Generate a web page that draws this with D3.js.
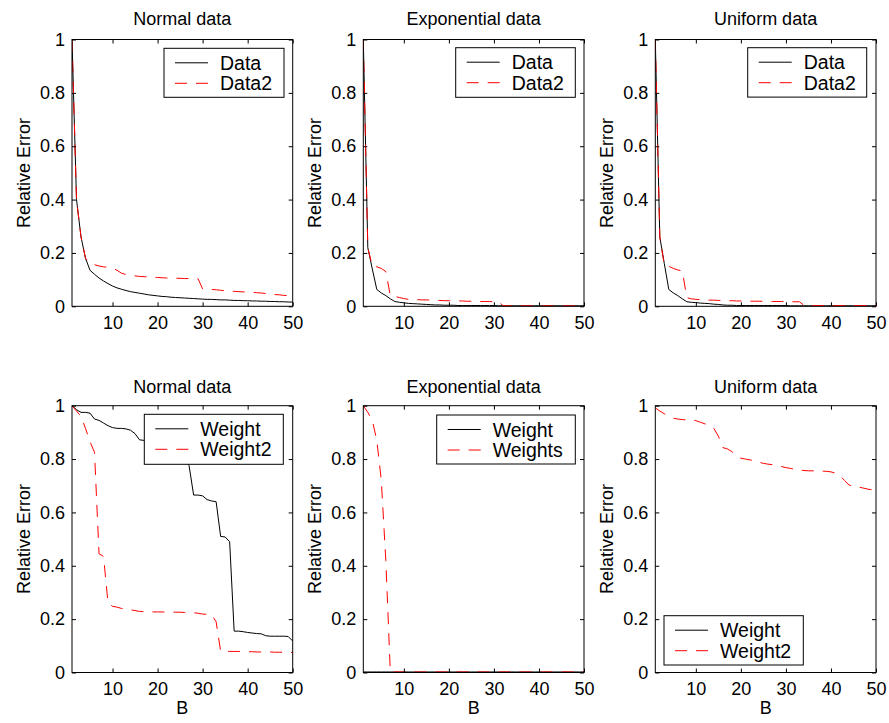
<!DOCTYPE html>
<html><head><meta charset="utf-8">
<script src="https://cdn.jsdelivr.net/npm/d3@7"></script>
<style>
body{margin:0;background:#fff}
svg{display:block}
text{font-family:"Liberation Sans",Arial,Helvetica,sans-serif;fill:#000}
</style>
</head><body>
<svg id="chart" width="889" height="723"></svg>
<script>
// ---------------- data ----------------
const B = [1,2,3,4,5,6,7,8,9,10,11,12,13,14,15,16,17,18,19,20,21,22,23,24,25,26,27,28,29,30,31,32,33,34,35,36,37,38,39,40,41,42,43,44,45,46,47,48,49,50];
const xTicks = [10,20,30,40,50];
const yTicks = [0,0.2,0.4,0.6,0.8,1];
const yTickLabels = ["0","0.2","0.4","0.6","0.8","1"];
const titles = ["Normal data","Exponential data","Uniform data","Normal data","Exponential data","Uniform data"];
const legendNames = [["Data","Data2"],["Data","Data2"],["Data","Data2"],["Weight","Weight2"],["Weight","Weights"],["Weight","Weight2"]];
const yLabel = "Relative Error";
const xLabel = "B";

const normalData = [1.0,0.40,0.26,0.18,0.135,0.12,0.106,0.095,0.085,0.076,0.069,0.064,0.059,0.055,0.052,0.049,0.046,0.043,0.041,0.039,0.037,0.036,0.034,0.033,0.032,0.031,0.030,0.029,0.028,0.027,0.026,0.026,0.025,0.024,0.024,0.023,0.022,0.022,0.021,0.021,0.020,0.020,0.019,0.019,0.018,0.018,0.017,0.017,0.016,0.016];
const normalData2 = [1.0,0.40,0.26,0.18,0.162,0.156,0.151,0.148,0.146,0.143,0.135,0.124,0.119,0.116,0.114,0.112,0.111,0.110,0.109,0.108,0.107,0.106,0.106,0.105,0.105,0.104,0.104,0.103,0.103,0.065,0.064,0.063,0.062,0.060,0.058,0.057,0.056,0.055,0.054,0.053,0.052,0.051,0.050,0.048,0.046,0.044,0.043,0.041,0.040,0.039];
const expData = [1.0,0.22,0.14,0.063,0.050,0.040,0.028,0.018,0.015,0.013,0.011,0.010,0.009,0.008,0.007,0.006,0.005,0.005,0.004,0.004,0.004,0.003,0.003,0.003,0.003,0.003,0.003,0.003,0.003,0.003,0.002,0.002,0.002,0.002,0.002,0.002,0.002,0.002,0.002,0.002,0.002,0.002,0.002,0.002,0.002,0.002,0.002,0.002,0.002,0.002];
const expData2 = [1.0,0.22,0.15,0.148,0.142,0.13,0.040,0.037,0.033,0.029,0.026,0.025,0.025,0.024,0.024,0.023,0.022,0.022,0.021,0.021,0.020,0.020,0.020,0.019,0.019,0.019,0.018,0.018,0.018,0.017,0.017,0.003,0.002,0.002,0.002,0.002,0.002,0.002,0.002,0.002,0.002,0.002,0.002,0.002,0.002,0.002,0.002,0.002,0.002,0.002];
const unifData = [1.0,0.26,0.16,0.063,0.050,0.040,0.028,0.017,0.015,0.014,0.012,0.011,0.010,0.008,0.007,0.005,0.004,0.004,0.003,0.003,0.003,0.003,0.003,0.003,0.003,0.003,0.003,0.003,0.003,0.003,0.002,0.002,0.002,0.002,0.002,0.002,0.002,0.002,0.002,0.002,0.002,0.002,0.002,0.002,0.002,0.002,0.002,0.002,0.002,0.002];
const unifData2 = [1.0,0.26,0.155,0.15,0.142,0.136,0.133,0.032,0.028,0.026,0.025,0.024,0.023,0.023,0.022,0.022,0.021,0.021,0.020,0.020,0.020,0.019,0.019,0.019,0.019,0.018,0.018,0.018,0.018,0.018,0.017,0.017,0.017,0.004,0.003,0.003,0.003,0.003,0.003,0.003,0.003,0.003,0.003,0.003,0.003,0.003,0.003,0.003,0.003,0.003];
const normalWeight = [1.0,0.985,0.975,0.975,0.972,0.95,0.945,0.935,0.925,0.918,0.915,0.915,0.913,0.908,0.895,0.872,0.870,0.865,0.862,0.858,0.852,0.845,0.835,0.825,0.810,0.795,0.775,0.665,0.665,0.662,0.648,0.643,0.640,0.510,0.508,0.490,0.155,0.155,0.153,0.150,0.148,0.146,0.145,0.138,0.136,0.136,0.136,0.136,0.135,0.118];
const normalWeight2 = [1.0,0.98,0.96,0.915,0.865,0.825,0.445,0.435,0.26,0.248,0.245,0.240,0.237,0.235,0.232,0.229,0.228,0.228,0.227,0.227,0.227,0.226,0.226,0.226,0.226,0.225,0.225,0.224,0.222,0.219,0.218,0.217,0.190,0.080,0.080,0.079,0.079,0.079,0.078,0.078,0.078,0.077,0.077,0.077,0.077,0.076,0.076,0.076,0.075,0.075];
const expWeight = [0.002,0.002,0.002,0.002,0.002,0.002,0.002,0.002,0.002,0.002,0.002,0.002,0.002,0.002,0.002,0.002,0.002,0.002,0.002,0.002,0.002,0.002,0.002,0.002,0.002,0.002,0.002,0.002,0.002,0.002,0.002,0.002,0.002,0.002,0.002,0.002,0.002,0.002,0.002,0.002,0.002,0.002,0.002,0.002,0.002,0.002,0.002,0.002,0.002,0.002];
const expWeight2 = [1.0,0.975,0.945,0.87,0.72,0.42,0.002,0.002,0.002,0.002,0.002,0.002,0.002,0.002,0.002,0.002,0.002,0.002,0.002,0.002,0.002,0.002,0.002,0.002,0.002,0.002,0.002,0.002,0.002,0.002,0.002,0.002,0.002,0.002,0.002,0.002,0.002,0.002,0.002,0.002,0.002,0.002,0.002,0.002,0.002,0.002,0.002,0.002,0.002,0.002];
const unifWeight = [0,0,0,0,0,0,0,0,0,0,0,0,0,0,0,0,0,0,0,0,0,0,0,0,0,0,0,0,0,0,0,0,0,0,0,0,0,0,0,0,0,0,0,0,0,0,0,0,0,0];
const unifWeight2 = [0.992,0.98,0.97,0.96,0.953,0.95,0.948,0.947,0.946,0.944,0.938,0.932,0.927,0.915,0.886,0.843,0.838,0.828,0.812,0.803,0.800,0.797,0.793,0.788,0.784,0.781,0.779,0.776,0.772,0.768,0.765,0.762,0.759,0.757,0.756,0.756,0.755,0.755,0.754,0.752,0.747,0.738,0.720,0.703,0.698,0.695,0.692,0.688,0.685,0.683];

const seriesByPanel = [
  [normalData, normalData2],
  [expData, expData2],
  [unifData, unifData2],
  [normalWeight, normalWeight2],
  [expWeight, expWeight2],
  [unifWeight, unifWeight2]
];

// ---------------- layout ----------------
const colLeft = [72, 363.3, 655.3];
const axW = 220.7;
const rowTop = [39.5, 405.7];
const axH = 266.8;
const legendBoxes = [
  {x:164, y:48.3, w:120, h:49},
  {x:455.7, y:47.7, w:119.6, h:49.6},
  {x:747.7, y:47.7, w:119, h:49.4},
  {x:144.3, y:414.3, w:139, h:50},
  {x:436.7, y:415, w:138.6, h:49},
  {x:664, y:615.7, w:139.3, h:49.3}
];
const styles = [
  {stroke:"#000", dash:null},
  {stroke:"#ff0000", dash:"12,9"}
];
const FONT = 18;
const LFONT = 19.5;

const svg = d3.select("#chart");
svg.append("rect").attr("width",889).attr("height",723).attr("fill","#fff");

seriesByPanel.forEach((series, i) => {
  const row = Math.floor(i/3), col = i%3;
  const left = colLeft[col], top = rowTop[row];
  const x = d3.scaleLinear().domain([1,50]).range([0, axW]);
  const y = d3.scaleLinear().domain([0,1]).range([axH, 0]);
  const g = svg.append("g").attr("transform",`translate(${left},${top})`);

  const clipId = "clip"+i;
  g.append("clipPath").attr("id",clipId).append("rect")
    .attr("x",0).attr("y",-1).attr("width",axW).attr("height",axH+2);

  // lines
  const line = d3.line().x((d,j)=>x(B[j])).y(d=>y(d));
  series.forEach((s, k) => {
    g.append("path").datum(s)
      .attr("clip-path",`url(#${clipId})`)
      .attr("d", line)
      .attr("fill","none")
      .attr("stroke", styles[k].stroke)
      .attr("stroke-width",1)
      .attr("stroke-dasharray", styles[k].dash);
  });

  // axes (inward ticks on all four sides)
  const ax = g.append("g").attr("transform",`translate(0,${axH})`)
    .call(d3.axisBottom(x).tickValues(xTicks).tickSizeInner(-4).tickSizeOuter(0).tickPadding(9.5).tickFormat(d3.format("d")));
  const at = g.append("g")
    .call(d3.axisTop(x).tickValues(xTicks).tickSizeInner(-4).tickSizeOuter(0).tickFormat(""));
  const al = g.append("g")
    .call(d3.axisLeft(y).tickValues(yTicks).tickSizeInner(-4).tickSizeOuter(0).tickPadding(7).tickFormat((d,j)=>yTickLabels[j]));
  const ar = g.append("g").attr("transform",`translate(${axW},0)`)
    .call(d3.axisRight(y).tickValues(yTicks).tickSizeInner(-4).tickSizeOuter(0).tickFormat(""));
  [ax,at,al,ar].forEach(a => {
    a.select(".domain").remove();
    a.selectAll("line").attr("stroke","#000");
    a.selectAll("text").attr("font-size",FONT).attr("font-family",'"Liberation Sans",Arial,sans-serif').attr("fill","#000");
  });

  // box
  g.append("rect").attr("x",0).attr("y",0).attr("width",axW).attr("height",axH)
    .attr("fill","none").attr("stroke","#000").attr("stroke-width",1);

  // title
  g.append("text").attr("x",axW/2).attr("y", row===0 ? -14.5 : -12.7)
    .attr("text-anchor","middle").attr("font-size",FONT).text(titles[i]);
  // y label
  g.append("text").attr("transform",`translate(-42,${axH/2}) rotate(-90)`)
    .attr("text-anchor","middle").attr("font-size",FONT).text(yLabel);
  // x label
  if (row===1) {
    g.append("text").attr("x",axW/2).attr("y",axH+42)
      .attr("text-anchor","middle").attr("font-size",FONT).text(xLabel);
  }

  // legend
  const lb = legendBoxes[i];
  const lg = svg.append("g").attr("transform",`translate(${lb.x},${lb.y})`);
  lg.append("rect").attr("width",lb.w).attr("height",lb.h)
    .attr("fill","#fff").attr("stroke","#000").attr("stroke-width",1);
  legendNames[i].forEach((name,k) => {
    const yy = k===0 ? 14.5 : 35;
    lg.append("line").attr("x1",11).attr("x2",44).attr("y1",yy).attr("y2",yy)
      .attr("stroke",styles[k].stroke).attr("stroke-width",1)
      .attr("stroke-dasharray",styles[k].dash);
    lg.append("text").attr("x",56).attr("y",yy).attr("dy","0.36em")
      .attr("font-size",LFONT).text(name);
  });
});
</script>
</body></html>
